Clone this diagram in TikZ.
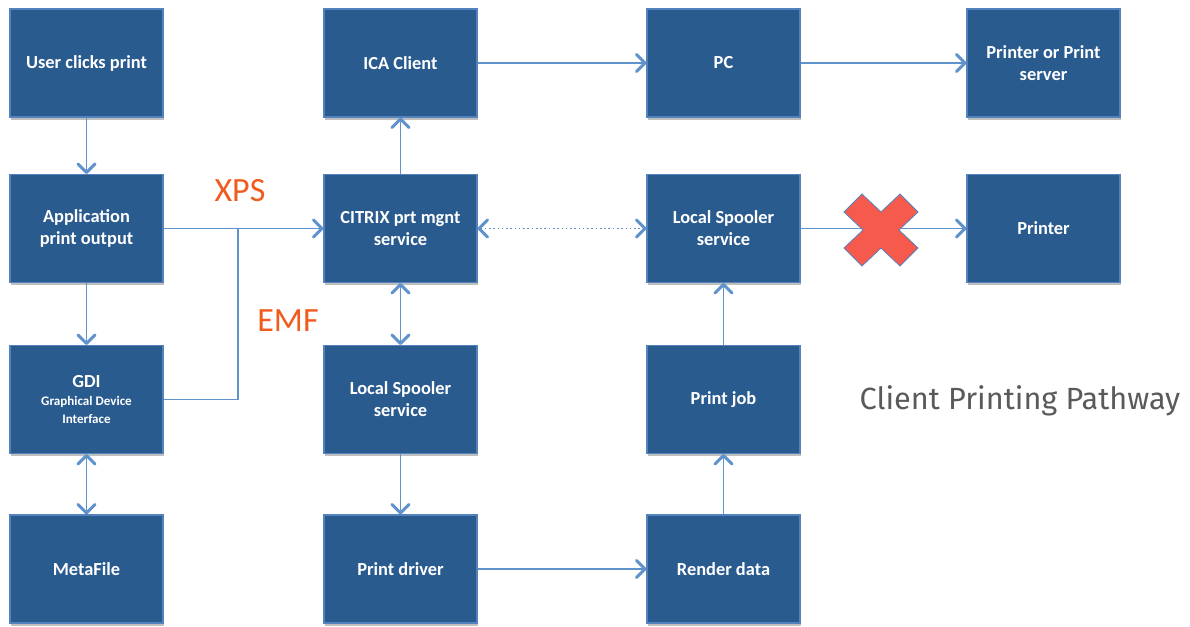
\documentclass[tikz,border=0pt]{standalone}
\usepackage{fontspec}
\setmainfont{Carlito}
\newfontfamily\titlefont{Fira Sans}
\usetikzlibrary{arrows.meta,shadows}
\definecolor{boxfill}{RGB}{42,91,143}
\definecolor{boxedge}{RGB}{84,130,190}
\definecolor{wire}{RGB}{96,146,204}
\definecolor{flabel}{RGB}{240,92,30}
\definecolor{crossred}{RGB}{246,90,76}
\definecolor{titlegray}{RGB}{90,90,90}
\tikzset{
  stepbox/.style={draw=boxedge, line width=0.8pt, fill=boxfill, text=white,
    minimum width=114.75pt, minimum height=81pt, align=center,
    font=\bfseries\fontsize{13.8}{16.5}\selectfont,
    drop shadow={shadow xshift=1pt, shadow yshift=-2pt, opacity=0.25, fill=black}},
  tip/.tip={Straight Barb[length=6.5pt,width=13pt,line width=2.2pt,round]},
  flow/.style={draw=wire, line width=1.2pt, -tip},
  flow2/.style={draw=wire, line width=1.2pt, tip-tip},
  link/.style={draw=wire, line width=1.2pt},
  fmt/.style={text=flabel, font=\fontsize{25.5}{30}\selectfont}
}
\begin{document}
\begin{tikzpicture}[x=0.75pt,y=-0.75pt]
\useasboundingbox (0,0) rectangle (1190,626);

% column 1
\node[stepbox] (user) at (86.5,63) {User clicks print};
\node[stepbox] (app)  at (86.5,228.5) {Application\\print output};
\node[stepbox] (gdi)  at (86.5,399.5) {GDI\\[-3pt]{\fontsize{9.8}{11}\selectfont Graphical Device}\\[-3pt]{\fontsize{9.8}{11}\selectfont Interface}};
\node[stepbox] (meta) at (86.5,569) {MetaFile};

% column 2
\node[stepbox] (ica)    at (400.5,63) {ICA Client};
\node[stepbox] (citrix) at (400.5,228.5) {CITRIX prt mgnt\\service};
\node[stepbox] (spool1) at (400.5,399.5) {Local Spooler\\service};
\node[stepbox] (driver) at (400.5,569) {Print driver};

% column 3
\node[stepbox] (pc)     at (723.5,63) {PC};
\node[stepbox] (spool2) at (723.5,228.5) {Local Spooler\\service};
\node[stepbox] (job)    at (723.5,399.5) {Print job};
\node[stepbox] (render) at (723.5,569) {Render data};

% column 4
\node[stepbox] (server)  at (1043.5,63) {Printer or Print\\server};
\node[stepbox] (printer) at (1043.5,228.5) {Printer};

% format labels and title
\node[fmt] (xps) at (240,191) {XPS};
\node[fmt] (emf) at (288,321) {EMF};
\node[text=titlegray, font=\titlefont\fontsize{23}{27}\selectfont, anchor=west] (title) at (855,401) {Client Printing Pathway};

% junction where the EMF path meets the XPS path
\coordinate (join) at (238,228.5);

% connectors
\draw[flow] (user) -- (app);
\draw[flow] (app) -- (gdi);
\draw[flow2] (gdi) -- (meta);
\draw[flow] (app) -- (citrix);
\draw[link] (gdi.east) -| (join);
\draw[flow] (citrix) -- (ica);
\draw[flow] (ica) -- (pc);
\draw[flow] (pc) -- (server);
\draw[flow2, dotted] (citrix) -- (spool2);
\draw[flow2] (citrix) -- (spool1);
\draw[flow] (spool1) -- (driver);
\draw[flow] (driver) -- (render);
\draw[flow] (render) -- (job);
\draw[flow] (job) -- (spool2);
\draw[flow] (spool2) -- (printer);

% blocked path marker
\draw[fill=crossred, draw=boxedge, line width=0.6pt, line join=miter]
  (881,212) -- (900,194) -- (918,212) -- (899,230) -- (918,248) -- (900,266)
  -- (881,248) -- (862,266) -- (844,248) -- (863,230) -- (844,212) -- (862,194) -- cycle;
\end{tikzpicture}
\end{document}
